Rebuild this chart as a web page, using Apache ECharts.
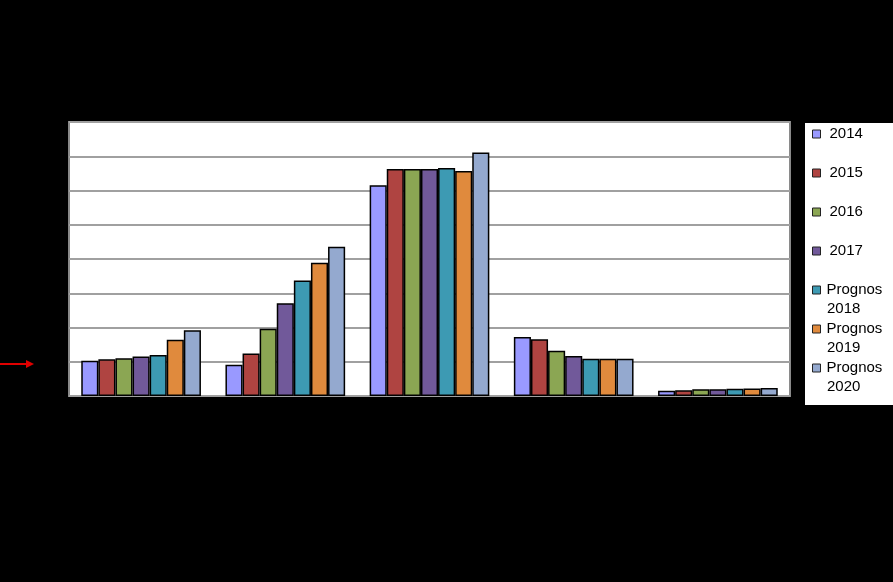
<!DOCTYPE html>
<html lang="sv">
<head>
  <meta charset="UTF-8">
  <title>Prognos</title>
  <style>
    html, body { margin: 0; padding: 0; background: #000; }
    #chart { width: 893px; height: 582px; }
  </style>
  <script src="https://cdn.jsdelivr.net/npm/echarts@6/dist/echarts.min.js"></script>
</head>
<body>
  <div id="chart"></div>
</body>
</html>
<script>
  // five groups, axis labels not readable in the picture
  var categories = ['1', '2', '3', '4', '5'];
  var seriesNames = ['2014', '2015', '2016', '2017', 'Prognos 2018', 'Prognos 2019', 'Prognos 2020'];
  var colors = ['#9999FF', '#AF4441', '#8BA653', '#71599A', '#3D9AB3', '#E08A3D', '#94A9CF'];

  var v2014 = [1.03, 0.91, 6.15, 1.72, 0.15];
  var v2015 = [1.07, 1.24, 6.63, 1.66, 0.17];
  var v2016 = [1.10, 1.96, 6.63, 1.32, 0.20];
  var v2017 = [1.15, 2.71, 6.63, 1.17, 0.20];
  var v2018 = [1.20, 3.37, 6.66, 1.09, 0.21];
  var v2019 = [1.64, 3.89, 6.57, 1.09, 0.22];
  var v2020 = [1.92, 4.36, 7.11, 1.09, 0.23];
  var values = [v2014, v2015, v2016, v2017, v2018, v2019, v2020];

  // legend rows: centre y of first line
  var legendRows = [134, 173, 212, 251, 290, 329, 368];

  var chart = echarts.init(document.getElementById('chart'));

  var series = seriesNames.map(function (name, i) {
    return {
      name: name,
      type: 'bar',
      data: values[i],
      barGap: '0%',
      barCategoryGap: '17%',
      itemStyle: { color: colors[i], borderColor: '#000', borderWidth: 1.5 }
    };
  });

  var legends = seriesNames.map(function (name, i) {
    return {
      data: [name],
      left: 812,
      top: legendRows[i] - 8,
      padding: 0,
      icon: 'rect',
      itemWidth: 8,
      itemHeight: 8,
      itemGap: 4,
      selectedMode: false,
      formatter: function (n) { return n.indexOf('Prognos') === 0 ? 'Prognos' : n; },
      itemStyle: { borderColor: '#222', borderWidth: 1 },
      textStyle: {
        fontFamily: 'Liberation Sans, Arial, sans-serif',
        fontSize: 15,
        color: '#000',
        lineHeight: 16,
        padding: i < 4 ? [0, 0, 0, 4] : [0, 0, 0, 1]
      }
    };
  });

  var secondLines = [];
  seriesNames.forEach(function (name, i) {
    if (name.indexOf('Prognos') === 0) {
      secondLines.push({
        type: 'text',
        left: 827,
        top: legendRows[i] + 19 - 8,
        style: {
          text: name.split(' ')[1],
          fill: '#000',
          font: '15px Liberation Sans, Arial, sans-serif'
        },
        z: 10
      });
    }
  });

  var option = {
    backgroundColor: '#000',
    animation: false,
    grid: {
      left: 69, top: 122, width: 721, height: 274,
      show: true,
      backgroundColor: '#fff',
      borderColor: '#8a8a8a',
      borderWidth: 2
    },
    legend: legends,
    xAxis: {
      type: 'category',
      data: categories,
      axisLine: { show: false },
      axisTick: { show: false },
      axisLabel: { show: false }
    },
    yAxis: {
      type: 'value',
      min: 0,
      max: 8,
      interval: 1,
      axisLine: { show: false },
      axisTick: { show: false },
      axisLabel: { show: false },
      splitLine: { lineStyle: { color: '#a0a0a0', width: 2 } }
    },
    graphic: [
      {
        type: 'rect',
        shape: { x: 805, y: 123, width: 88, height: 282 },
        style: { fill: '#fff' },
        z: -1
      },
      {
        type: 'line',
        shape: { x1: 0, y1: 364, x2: 28, y2: 364 },
        style: { stroke: '#e00000', lineWidth: 2 }
      },
      {
        type: 'polygon',
        shape: { points: [[26, 360], [34, 364], [26, 368]] },
        style: { fill: '#e00000' }
      }
    ].concat(secondLines),
    series: series
  };

  chart.setOption(option);
</script>
